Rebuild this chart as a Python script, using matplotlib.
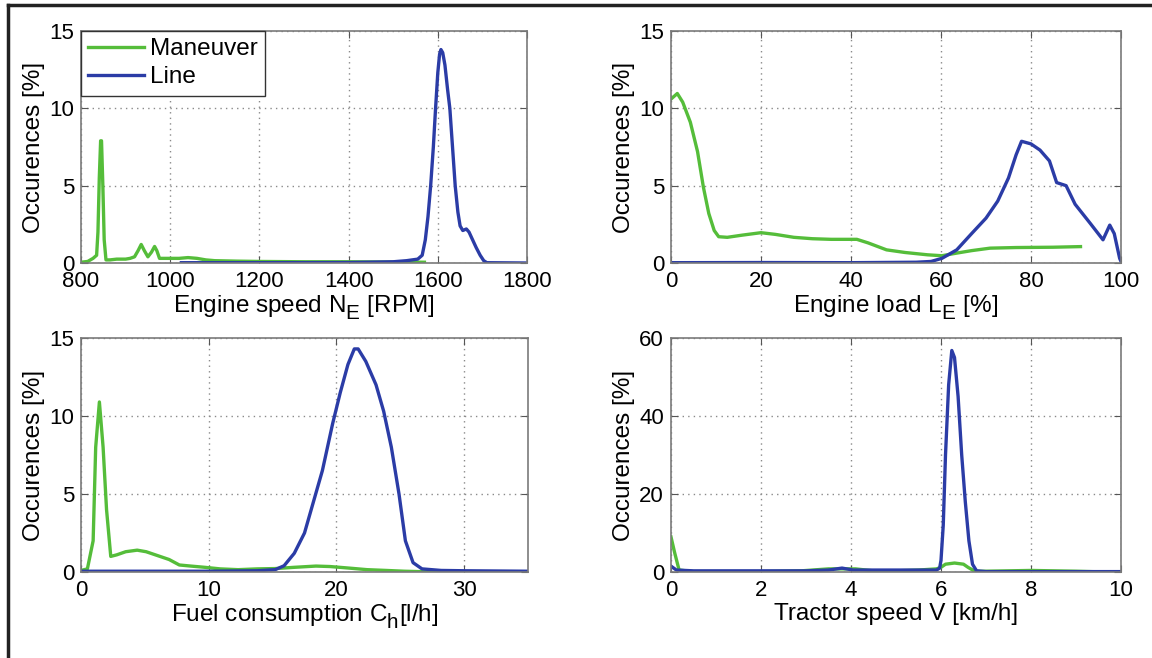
import matplotlib
matplotlib.use("Agg")
import matplotlib.pyplot as plt
from matplotlib.lines import Line2D
try:
    import matplotlib._mathtext as _mt
    _mt.SHRINK_FACTOR = 0.85
    for _name in dir(_mt):
        _obj = getattr(_mt, _name)
        if isinstance(_obj, type) and issubclass(_obj, _mt.FontConstantsBase):
            _obj.sub1 = 0.55
            _obj.sub2 = 0.6
except Exception:
    pass

plt.rcParams['font.family'] = ['Liberation Sans', 'DejaVu Sans']
plt.rcParams['mathtext.default'] = 'regular'

# ---------------- data ----------------
# Panel 1: engine speed [RPM]
ne_man_x = [800, 815, 827, 835, 838, 841, 844, 846, 849, 852, 856, 865, 880, 900, 910, 920,
            928, 935, 942, 950, 958, 965, 970, 976, 985, 1000, 1020, 1040, 1060, 1080, 1100,
            1150, 1200, 1300, 1400, 1500, 1570]
ne_man_y = [0.05, 0.1, 0.3, 0.5, 2.0, 5.5, 7.9, 7.9, 5.0, 1.5, 0.2, 0.2, 0.25, 0.25, 0.3, 0.4,
            0.8, 1.2, 0.8, 0.4, 0.7, 1.07, 0.8, 0.3, 0.3, 0.3, 0.3, 0.35, 0.3, 0.2, 0.15,
            0.12, 0.1, 0.08, 0.08, 0.06, 0.05]
ne_line_x = [1025, 1200, 1400, 1500, 1530, 1555, 1565, 1572, 1578, 1584, 1590, 1595, 1600,
             1604, 1607, 1611, 1616, 1622, 1627, 1633, 1639, 1645, 1650, 1656, 1664, 1670,
             1678, 1686, 1695, 1703, 1710, 1800]
ne_line_y = [0.02, 0.02, 0.03, 0.08, 0.15, 0.25, 0.5, 1.5, 3.0, 5.0, 7.5, 10.0, 12.3,
             13.5, 13.8, 13.6, 12.8, 11.2, 10.0, 7.5, 5.0, 3.3, 2.4, 2.1, 2.2, 2.0,
             1.5, 1.0, 0.5, 0.15, 0.02, 0.0]

# Panel 2: engine load [%]
le_man_x = [0, 1.4, 2.6, 4.3, 5.9, 7.2, 8.4, 9.6, 10.6, 12.5, 15.8, 20, 23.2, 27.3, 31.4,
            35.6, 41.3, 43.8, 47.9, 52, 57, 60.2, 63.5, 66.8, 70.9, 76.7, 84.9, 91]
le_man_y = [10.6, 10.96, 10.4, 9.1, 7.2, 4.9, 3.2, 2.1, 1.7, 1.66, 1.8, 1.96, 1.85, 1.66, 1.57,
            1.53, 1.53, 1.3, 0.85, 0.68, 0.53, 0.47, 0.64, 0.8, 0.96, 1.0, 1.02, 1.06]
le_line_x = [0, 20, 40, 54.5, 57.8, 60.2, 63.5, 66.8, 70, 72.6, 75, 76.7, 77.9, 80, 82, 84.1,
             85.7, 87.8, 89.8, 93.2, 96, 97.5, 98.5, 99.7, 100]
le_line_y = [0.02, 0.03, 0.02, 0.05, 0.1, 0.3, 0.85, 1.9, 2.9, 4.0, 5.5, 7.0, 7.87, 7.7, 7.3, 6.6,
             5.2, 5.0, 3.8, 2.55, 1.5, 2.45, 1.9, 0.3, 0.1]

# Panel 3: fuel consumption [l/h]
fc_man_x = [0, 0.5, 0.95, 1.15, 1.44, 1.73, 2.0, 2.33, 2.8, 3.5, 4.4, 5.1, 6.0, 6.9, 7.7,
            8.6, 9.7, 10.9, 12.3, 13.8, 15.2, 16.7, 18.4, 19.5, 21, 22.4, 23.9, 25.3, 26.7, 28]
fc_man_y = [0.1, 0.2, 2.0, 8.0, 10.9, 8.0, 4.0, 1.0, 1.1, 1.3, 1.4, 1.3, 1.05, 0.8, 0.45,
            0.38, 0.3, 0.2, 0.15, 0.2, 0.22, 0.3, 0.38, 0.35, 0.25, 0.15, 0.1, 0.05, 0.02, 0.02]
fc_line_x = [0, 5, 10, 13.8, 15.2, 15.9, 16.7, 17.5, 18.2, 18.9, 19.7, 20.3, 20.9, 21.4, 21.7,
             22.3, 23.1, 23.7, 24.3, 24.9, 25.4, 26.0, 26.7, 28.2, 30, 35]
fc_line_y = [0.05, 0.05, 0.05, 0.08, 0.15, 0.4, 1.2, 2.5, 4.5, 6.5, 9.5, 11.5, 13.3, 14.3, 14.3,
             13.5, 12.0, 10.3, 8.0, 5.0, 2.0, 0.6, 0.2, 0.1, 0.08, 0.05]

# Panel 4: tractor speed [km/h]
ts_man_x = [0, 0.08, 0.18, 0.5, 1.0, 2.0, 2.9, 3.5, 4.1, 4.5, 5.0, 5.5, 5.9, 6.0, 6.1, 6.3,
            6.5, 6.6, 6.75, 7.0, 7.5, 8.0, 9.0, 9.5, 10]
ts_man_y = [9.0, 5.0, 0.5, 0.1, 0.1, 0.1, 0.3, 0.8, 0.8, 0.3, 0.3, 0.5, 0.8, 1.2, 2.0, 2.3,
            2.0, 1.2, 0.2, 0.2, 0.3, 0.4, 0.2, 0.05, 0.0]
ts_line_x = [0, 0.12, 0.5, 1, 2, 3, 3.5, 3.8, 4.05, 5, 5.9, 5.97, 6.0, 6.05, 6.1, 6.17, 6.24,
             6.3, 6.38, 6.46, 6.54, 6.62, 6.7, 6.79, 7, 8, 9, 10]
ts_line_y = [1.5, 0.5, 0.3, 0.3, 0.3, 0.3, 0.5, 1.0, 0.5, 0.5, 0.5, 1.0, 3.0, 12.0, 30.0, 48.0, 56.8,
             55.0, 45.0, 30.0, 18.0, 8.0, 2.0, 0.3, 0.1, 0.1, 0.1, 0.1]

x_labels = [r'Engine speed N$_{E}$ [RPM]', r'Engine load L$_{E}$ [%]',
            r'Fuel consumption C$_{h}$[l/h]', 'Tractor speed V [km/h]']
y_label = 'Occurences [%]'
series_names = ['Maneuver', 'Line']

xticks_list = [[800, 1000, 1200, 1400, 1600, 1800], [0, 20, 40, 60, 80, 100],
               [0, 10, 20, 30], [0, 2, 4, 6, 8, 10]]
yticks_list = [[0, 5, 10, 15], [0, 5, 10, 15], [0, 5, 10, 15], [0, 20, 40, 60]]
xlims = [(800, 1800), (0, 100), (0, 35), (0, 10)]
ylims = [(0, 15), (0, 15), (0, 15), (0, 60)]

data = [(ne_man_x, ne_man_y, ne_line_x, ne_line_y),
        (le_man_x, le_man_y, le_line_x, le_line_y),
        (fc_man_x, fc_man_y, fc_line_x, fc_line_y),
        (ts_man_x, ts_man_y, ts_line_x, ts_line_y)]

GREEN = '#55bd3a'
BLUE = '#2b3ca6'
W, H = 1152, 658
fig = plt.figure(figsize=(W / 100, H / 100), dpi=100)

# axes rectangles in pixels (left, top, right, bottom)
rects = [(81, 31, 527, 263), (671, 31, 1121, 263),
         (81, 338, 528, 572), (671, 338, 1121, 572)]

TFS = 16
LFS = 17.5
for i, (l, t, r, b) in enumerate(rects):
    ax = fig.add_axes([l / W, 1 - b / H, (r - l) / W, (b - t) / H])
    mx, my, lx, ly = data[i]
    ax.plot(mx, my, color=GREEN, lw=2.4, label=series_names[0])
    ax.plot(lx, ly, color=BLUE, lw=2.4, label=series_names[1])
    ax.set_xlim(*xlims[i])
    ax.set_ylim(*ylims[i])
    ax.set_xticks(xticks_list[i])
    ax.set_yticks(yticks_list[i])
    ax.grid(True, linestyle=(0, (1, 3)), color='#8a8a8a', lw=1.0)
    ax.tick_params(direction='in', length=5, top=True, right=True, labelsize=TFS,
                   color='#555555')
    ax.tick_params(axis='x', pad=6)
    ax.tick_params(axis='y', pad=5)
    for s in ax.spines.values():
        s.set_color('#7a7a7a')
        s.set_linewidth(1.2)
    ax.set_xlabel(x_labels[i], fontsize=LFS, labelpad=1)
    ax.set_ylabel(y_label, fontsize=LFS, labelpad=3)
    if i == 0:
        leg = ax.legend(loc='upper left', borderaxespad=0, fontsize=LFS, fancybox=False,
                        framealpha=1, edgecolor='#333333', handlelength=2.3,
                        handletextpad=0.25, borderpad=0.3, labelspacing=0.25)
        leg.get_frame().set_linewidth(1.0)

# outer frame: top and left lines
fig.add_artist(Line2D([8 / W, 1], [1 - 5 / H, 1 - 5 / H], color='#222222', lw=2.5,
                      transform=fig.transFigure))
fig.add_artist(Line2D([8 / W, 8 / W], [0, 1 - 5 / H], color='#222222', lw=2.5,
                      transform=fig.transFigure))

fig.savefig('out.png', dpi=100)
